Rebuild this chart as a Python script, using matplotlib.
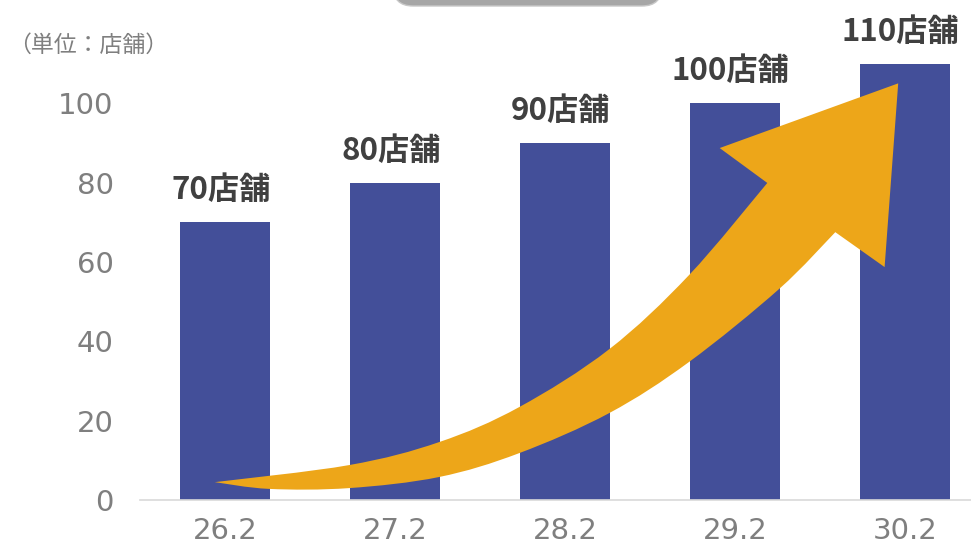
import matplotlib.pyplot as plt
import matplotlib.patches as mpatches
from matplotlib.path import Path
from matplotlib.transforms import IdentityTransform
import numpy as np

plt.rcParams['font.family'] = ['Noto Sans CJK JP', 'DejaVu Sans']

# data
years = ['26.2', '27.2', '28.2', '29.2', '30.2']
stores = [70, 80, 90, 100, 110]
yticks = [0, 20, 40, 60, 80, 100]
unit_label = '（単位：店舗）'

# decorative arrow outline, in (category index, value) units
arrow_top = [(-0.06, 4.5), (0.73, 8.8), (1.26, 14.6), (1.73, 23.4),
             (2.26, 38.0), (2.73, 56.7), (3.19, 79.9)]
arrow_head = [(2.91, 88.7), (3.96, 105.0), (3.88, 58.7), (3.59, 67.5)]
arrow_bottom = [(3.59, 67.5), (3.26, 53.2), (2.73, 34.8), (2.26, 21.9),
                (1.73, 11.8), (1.26, 5.8), (0.73, 3.0), (0.26, 2.8), (-0.06, 4.5)]

bar_color = '#434F99'
arrow_color = '#EDA619'
grey = '#7F7F7F'

fig = plt.figure(figsize=(9.71, 5.47), dpi=100)
ax = fig.add_axes([140/971, 47/547, 850/971, 496/547])

x = np.arange(len(years))
ax.bar(x, stores, width=0.524, color=bar_color, zorder=2)

for xi, v in zip(x, stores):
    ax.annotate(f'{v}店舗', (xi, v), xytext=(-3, 16.5), textcoords='offset points',
                ha='center', va='baseline', fontsize=22.5, fontweight='bold',
                color='#404040', annotation_clip=False)


def smooth_codes(pts):
    # catmull-rom -> cubic bezier segments
    pts = np.asarray(pts, float)
    verts = [pts[0]]
    codes = []
    n = len(pts)
    for i in range(n - 1):
        p0 = pts[max(i - 1, 0)]
        p1 = pts[i]
        p2 = pts[i + 1]
        p3 = pts[min(i + 2, n - 1)]
        c1 = p1 + (p2 - p0) / 6
        c2 = p2 - (p3 - p1) / 6
        verts += [c1, c2, p2]
        codes += [Path.CURVE4] * 3
    return verts, codes

tv, tc = smooth_codes(arrow_top)
bv, bc = smooth_codes(arrow_bottom)
verts = tv + [np.array(p) for p in arrow_head] + bv[1:]
codes = [Path.MOVETO] + tc + [Path.LINETO] * len(arrow_head) + bc
verts.append(verts[0])
codes.append(Path.CLOSEPOLY)
ax.add_patch(mpatches.PathPatch(Path(verts, codes), facecolor=arrow_color,
                                edgecolor='none', zorder=3, clip_on=False))

ax.set_xlim(-0.5, 4.5)
ax.set_ylim(0, 125)
ax.set_xticks(x)
ax.set_xticklabels(years)
ax.set_yticks(yticks)
ax.tick_params(axis='both', length=0, labelsize=21, labelcolor=grey)
ax.tick_params(axis='y', pad=19)
ax.tick_params(axis='x', pad=12)
for lbl in ax.get_xticklabels() + ax.get_yticklabels():
    lbl.set_family(['DejaVu Sans'])
for s in ['top', 'right', 'left']:
    ax.spines[s].set_visible(False)
ax.spines['bottom'].set_color('#D9D9D9')
ax.spines['bottom'].set_linewidth(1.2)

fig.text(8/971, 1 - 45/547, unit_label, fontsize=16.5, color=grey, va='center')

# grey rounded tab cut off at the top edge
r = 20
tab = mpatches.FancyBboxPatch((393 + r, 541 + r), 269 - 2*r, 40, boxstyle=f'round,pad={r}',
                              facecolor='#A6A6A6', edgecolor='#C8C8C8', linewidth=1,
                              transform=IdentityTransform())
fig.add_artist(tab)

fig.savefig('out.png', dpi=100)
